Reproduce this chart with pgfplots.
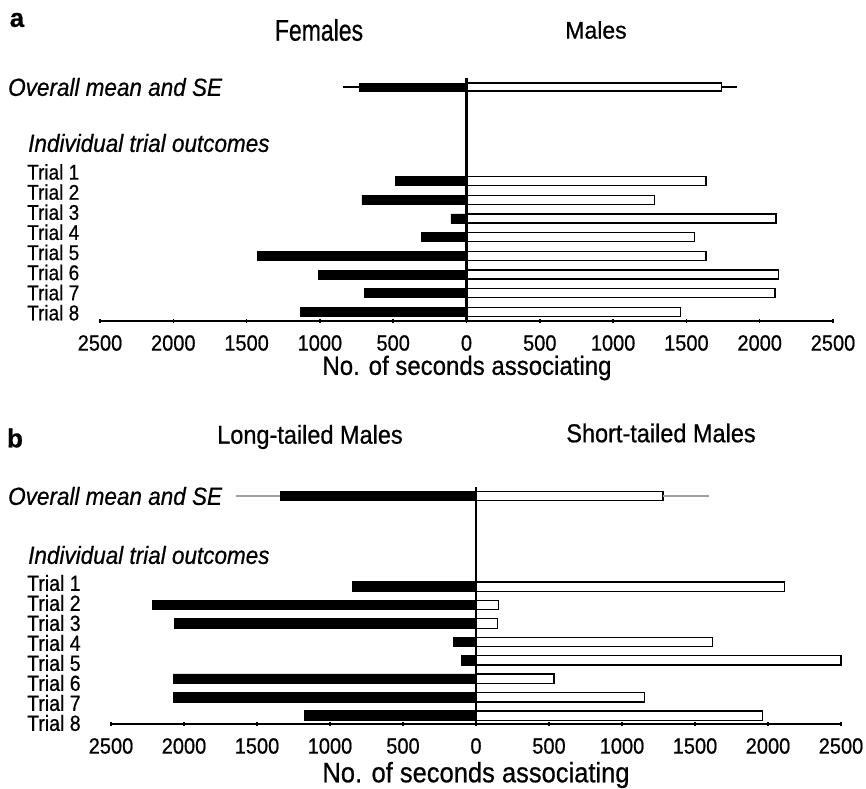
\documentclass[border=0pt]{standalone}
\usepackage{graphicx}
\usepackage{fontspec}
\setmainfont{Liberation Sans}[FakeBold=0.7]
\usepackage{pgfplots}
\pgfplotsset{compat=1.18}
\newcommand{\fs}[1]{\fontsize{#1bp}{#1bp}\selectfont}
\newcommand{\vs}[2][1.1]{\scalebox{1}[#1]{#2}}
\begin{document}
\begin{tikzpicture}
\path[use as bounding box] (0bp,0bp) rectangle (866bp,-789bp);
\pgfplotsset{
  panel/.style={
    scale only axis, anchor=south west,
    xmin=-2500, xmax=2500,
    axis x line*=bottom, axis y line=none,
    axis line style={-, line width=1.8bp},
    xtick={-2500,-2000,...,2500},
    xticklabels={\vs{2500},\vs{2000},\vs{1500},\vs{1000},\vs{500},\vs{0},\vs{500},\vs{1000},\vs{1500},\vs{2000},\vs{2500}},
    xticklabel style={anchor=center, yshift=-20bp, font=\fs{20}},
    major tick length=4bp, tick align=center,
    tick style={black, line width=1.5bp},
    clip=false,
  },
  blk/.style={xbar, bar shift=0pt, fill=black, draw=black, line width=0.8bp},
  wht/.style={xbar, bar shift=0pt, fill=white, draw=black, line width=1.3bp},
}
% ---------------- panel a ----------------
\begin{axis}[panel, at={(100bp,-321bp)}, width=733bp, height=243bp,
  ymin=-321, ymax=-78]
\addplot[wht, bar width=8bp,
  error bars/.cd, x dir=plus, x explicit, error mark=none,
  error bar style={black, line width=1.4bp}]
  coordinates {(1738,-87) +- (110,0)};
\addplot[blk, bar width=8bp,
  error bars/.cd, x dir=minus, x explicit, error mark=none,
  error bar style={black, line width=1.4bp}]
  coordinates {(-732,-87) +- (109,0)};
\addplot[wht, bar width=9bp] coordinates {
  (1633,-181) (1282,-199.7) (2112,-218.4) (1557,-237.1)
  (1633,-255.8) (2130,-274.5) (2104,-293.2) (1459,-312)};
\addplot[blk, bar width=9bp] coordinates {
  (-486,-181) (-713,-199.7) (-106,-218.4) (-309,-237.1)
  (-1429,-255.8) (-1011,-274.5) (-694,-293.2) (-1131,-312)};
\addplot[black, line width=2.5bp] coordinates {(0,-78) (0,-321)};
\end{axis}
% ---------------- panel b ----------------
\begin{axis}[panel, at={(111bp,-724bp)}, width=730bp, height=237bp,
  ymin=-724, ymax=-487]
\addplot[wht, bar width=9bp,
  error bars/.cd, x dir=plus, x explicit, error mark=none,
  error bar style={gray!75, line width=1.5bp}]
  coordinates {(1280,-496) +- (318,0)};
\addplot[blk, bar width=9bp,
  error bars/.cd, x dir=minus, x explicit, error mark=none,
  error bar style={gray!75, line width=1.5bp}]
  coordinates {(-1341,-496) +- (303,0)};
\addplot[wht, bar width=9.5bp] coordinates {
  (2114,-586.6) (155,-605) (148,-623.5) (1621,-641.9)
  (2500,-660.3) (534,-678.7) (1155,-697.2) (1962,-715.6)};
\addplot[blk, bar width=9.5bp] coordinates {
  (-848,-586.6) (-2214,-605) (-2065,-623.5) (-155,-641.9)
  (-98,-660.3) (-2074,-678.7) (-2075,-697.2) (-1178,-715.6)};
\addplot[black, line width=2.2bp] coordinates {(0,-487) (0,-724)};
\end{axis}
% ---------------- texts ----------------
\node[font=\bfseries\fs{26}] at (17bp,-20bp) {a};
\node[font=\bfseries\fs{26}] at (15bp,-438bp) {b};
\node[font=\fs{23}] at (319bp,-30bp) {\vs[1.3]{Females}};
\node[font=\fs{23}] at (596bp,-30bp) {\vs[1.05]{Males}};
\node[font=\fs{23.5}] at (310bp,-437bp) {\vs[1.1]{Long-tailed Males}};
\node[font=\fs{23.5}] at (661bp,-433bp) {\vs[1.1]{Short-tailed Males}};
\node[font=\itshape\fs{22.5}, anchor=west, inner sep=0pt] at (8bp,-87bp) {\vs{Overall mean and SE}};
\node[font=\itshape\fs{22.5}, anchor=west, inner sep=0pt] at (28bp,-143bp) {\vs{Individual trial outcomes}};
\node[font=\itshape\fs{22.5}, anchor=west, inner sep=0pt] at (8bp,-496bp) {\vs{Overall mean and SE}};
\node[font=\itshape\fs{22.5}, anchor=west, inner sep=0pt] at (28bp,-555bp) {\vs{Individual trial outcomes}};
\foreach \k in {1,...,8} {
  \node[font=\fs{19}, anchor=west, inner sep=0pt] at (27bp,{-172bp-20.1bp*(\k-1)}) {\vs[1.12]{Trial \k}};
  \node[font=\fs{19.5}, anchor=west, inner sep=0pt] at (27bp,{-583bp-20bp*(\k-1)}) {\vs[1.12]{Trial \k}};
}
\node[font=\fs{24}] at (467bp,-368bp) {\vs[1.1]{No. of seconds associating}};
\node[font=\fs{25.5}] at (476bp,-775bp) {\vs[1.1]{No. of seconds associating}};
\end{tikzpicture}
\end{document}
